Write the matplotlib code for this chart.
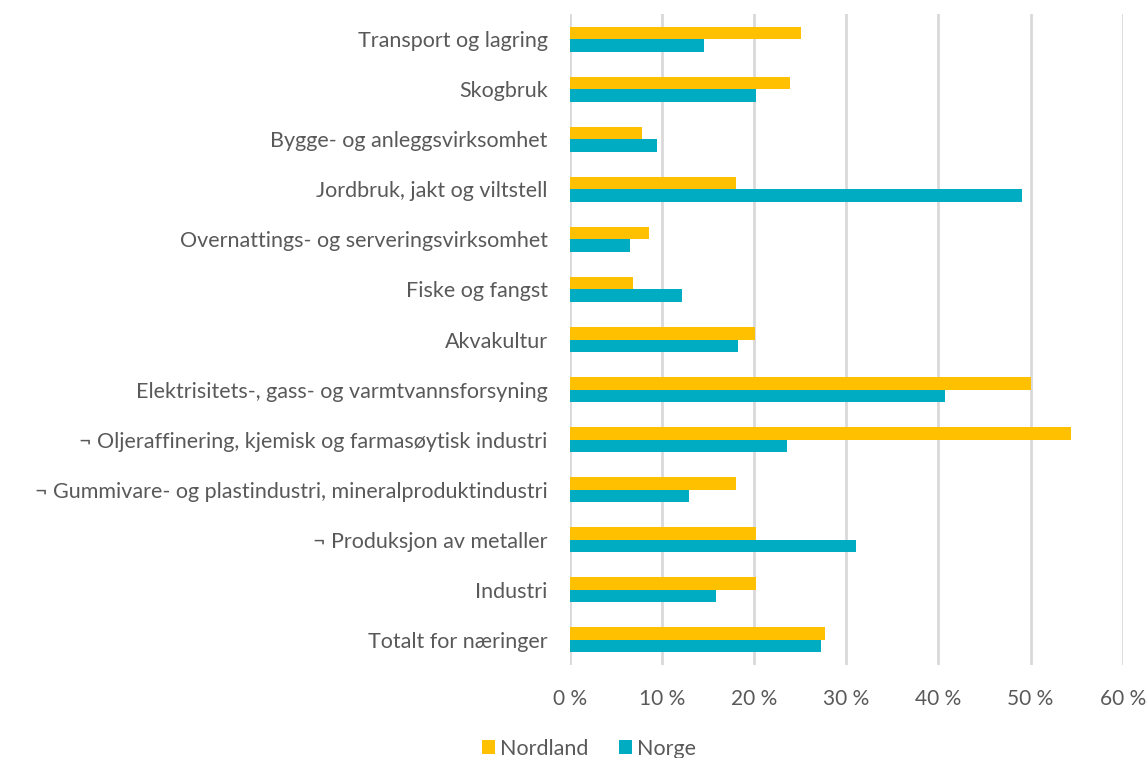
import matplotlib.pyplot as plt
import numpy as np
from matplotlib.ticker import FuncFormatter

categories = [
    "Totalt for næringer",
    "Industri",
    "¬ Produksjon av metaller",
    "¬ Gummivare- og plastindustri, mineralproduktindustri",
    "¬ Oljeraffinering, kjemisk og farmasøytisk industri",
    "Elektrisitets-, gass- og varmtvannsforsyning",
    "Akvakultur",
    "Fiske og fangst",
    "Overnattings- og serveringsvirksomhet",
    "Jordbruk, jakt og viltstell",
    "Bygge- og anleggsvirksomhet",
    "Skogbruk",
    "Transport og lagring",
]
nordland = [27.7, 20.2, 20.2, 18.0, 54.4, 50.0, 20.1, 6.8, 8.6, 18.0, 7.8, 23.9, 25.1]
norge = [27.2, 15.9, 31.0, 12.9, 23.6, 40.7, 18.2, 12.2, 6.5, 49.1, 9.4, 20.2, 14.6]

plt.rcParams['font.family'] = ['Lato', 'DejaVu Sans']
text_col = '#595959'

fig = plt.figure(figsize=(11.48, 7.58), dpi=100)
ax = fig.add_axes([0.4965, 0.1227, 0.4815, 0.8588])

y = np.arange(len(categories))
h = 0.25
ax.barh(y + h / 2, nordland, height=h, color='#FFC000', label='Nordland', zorder=3)
ax.barh(y - h / 2, norge, height=h, color='#00ACC1', label='Norge', zorder=3)

ax.set_xlim(0, 60)
ax.set_ylim(-0.5, len(categories) - 0.5)
ax.set_xticks(range(0, 61, 10))
ax.xaxis.set_major_formatter(FuncFormatter(lambda v, p: f"{v:.0f} %"))
ax.set_yticks(y)
ax.set_yticklabels(categories)
ax.tick_params(axis='y', length=0, pad=16, labelsize=15.5, labelcolor=text_col)
ax.tick_params(axis='x', length=0, pad=17, labelsize=15, labelcolor=text_col)
ax.grid(axis='x', color='#D9D9D9', linewidth=2, zorder=0)
for s in ax.spines.values():
    s.set_visible(False)

fig.legend(loc='center', bbox_to_anchor=(0.513, 0.012), ncol=2, frameon=False,
           fontsize=15.5, labelcolor=text_col, handlelength=0.6, handleheight=0.6,
           handletextpad=0.25, columnspacing=1.4)

fig.savefig('out.png', dpi=100)
